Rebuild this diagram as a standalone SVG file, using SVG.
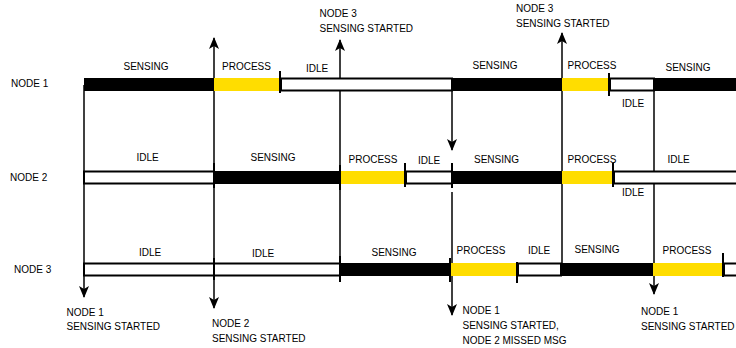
<svg xmlns="http://www.w3.org/2000/svg" width="736" height="348" viewBox="0 0 736 348">
<defs>
<style>
text{font-family:"Liberation Sans",Arial,Helvetica,sans-serif;font-size:10px;fill:#000}
.c{text-anchor:middle}
.blk{fill:#000}
.yel{fill:#FFDD00}
.wht{fill:#fff;stroke:#000;stroke-width:2}
.tick{stroke:#000;stroke-width:2;fill:none}
.ln{stroke:#000;stroke-width:1.5;fill:none}
.arr{stroke:#000;stroke-width:1.5;fill:none;marker-end:url(#ah)}
</style>
<marker id="ah" markerUnits="userSpaceOnUse" markerWidth="12" markerHeight="12" viewBox="0 0 12 10" refX="11" refY="5" orient="auto">
<path d="M0,0 L12,5 L0,10 L3,5 Z" fill="#000"/>
</marker>
</defs>
<rect width="736" height="348" fill="#fff"/>
<g id="connectors">
<path class="arr" d="M84,85 V297"/>
<path class="arr" d="M214,180 V38"/>
<path class="arr" d="M214,180 V308"/>
<path class="arr" d="M340,263 V40"/>
<path class="arr" d="M452,91 V150"/>
<path class="arr" d="M452,192 V315"/>
<path class="arr" d="M562,263 V33"/>
<path class="arr" d="M654,91 V294"/>
</g>
<g id="node1">
<text x="11" y="87">NODE 1</text>
<rect class="blk" x="84" y="78" width="130" height="13"/>
<rect class="yel" x="214" y="78" width="66" height="13"/>
<rect class="wht" x="281" y="78.5" width="171" height="12"/>
<rect class="blk" x="452" y="78" width="110" height="13"/>
<rect class="yel" x="562" y="78" width="47" height="13"/>
<rect class="wht" x="610" y="78.5" width="44" height="12"/>
<rect class="blk" x="654" y="78" width="82" height="13"/>
<path class="tick" d="M280,71 V93 M609,73 V96"/>
<text class="c" x="146" y="69.5">SENSING</text>
<text class="c" x="246.5" y="69.5">PROCESS</text>
<text class="c" x="317" y="72">IDLE</text>
<text class="c" x="495" y="68.5">SENSING</text>
<text class="c" x="592" y="68.5">PROCESS</text>
<text class="c" x="688" y="70.5">SENSING</text>
<text class="c" x="633" y="107">IDLE</text>
</g>
<g id="node2">
<text x="10" y="181">NODE 2</text>
<rect class="wht" x="84" y="171.5" width="130" height="12"/>
<rect class="blk" x="214" y="171" width="126" height="13"/>
<rect class="yel" x="340" y="171" width="65" height="13"/>
<rect class="wht" x="406" y="171.5" width="46" height="12"/>
<rect class="blk" x="452" y="171" width="110" height="13"/>
<rect class="yel" x="562" y="171" width="51" height="13"/>
<rect class="wht" x="614" y="171.5" width="124" height="12"/>
<path class="tick" d="M214,163 V188 M340,165 V190 M405,163 V187 M452,163 V188 M613,163 V187"/>
<text class="c" x="147.5" y="161">IDLE</text>
<text class="c" x="273" y="161">SENSING</text>
<text class="c" x="373" y="163">PROCESS</text>
<text class="c" x="429" y="163.5">IDLE</text>
<text class="c" x="496.5" y="162.5">SENSING</text>
<text class="c" x="592" y="163">PROCESS</text>
<text class="c" x="678.5" y="163">IDLE</text>
<text class="c" x="633" y="196">IDLE</text>
</g>
<g id="node3">
<text x="14" y="273">NODE 3</text>
<rect class="wht" x="84" y="263.5" width="256" height="12"/>
<rect class="blk" x="340" y="263" width="110" height="13"/>
<rect class="yel" x="450" y="263" width="67" height="13"/>
<rect class="wht" x="518" y="263.5" width="43" height="12"/>
<rect class="blk" x="561" y="263" width="92" height="13"/>
<rect class="yel" x="653" y="263" width="70" height="13"/>
<rect class="wht" x="724" y="263.5" width="14" height="12"/>
<path class="tick" d="M214,258 V280 M340,256 V282 M450,258 V282 M517,262 V283 M723,253 V277"/>
<text class="c" x="150" y="256">IDLE</text>
<text class="c" x="263" y="256.5">IDLE</text>
<text class="c" x="394" y="255.5">SENSING</text>
<text class="c" x="481" y="254">PROCESS</text>
<text class="c" x="539" y="254">IDLE</text>
<text class="c" x="597" y="253">SENSING</text>
<text class="c" x="687" y="254">PROCESS</text>
</g>
<g id="annotations">
<text x="319.5" y="16.5">NODE 3</text>
<text x="319.5" y="31.5">SENSING STARTED</text>
<text x="516" y="12">NODE 3</text>
<text x="516" y="27">SENSING STARTED</text>
<text x="66.5" y="315.5">NODE 1</text>
<text x="66.5" y="329.5">SENSING STARTED</text>
<text x="212" y="327">NODE 2</text>
<text x="212" y="342">SENSING STARTED</text>
<text x="462.5" y="314">NODE 1</text>
<text x="462.5" y="329">SENSING STARTED,</text>
<text x="462.5" y="343.5">NODE 2 MISSED MSG</text>
<text x="641" y="315">NODE 1</text>
<text x="641" y="329.5">SENSING STARTED</text>
</g>
</svg>
